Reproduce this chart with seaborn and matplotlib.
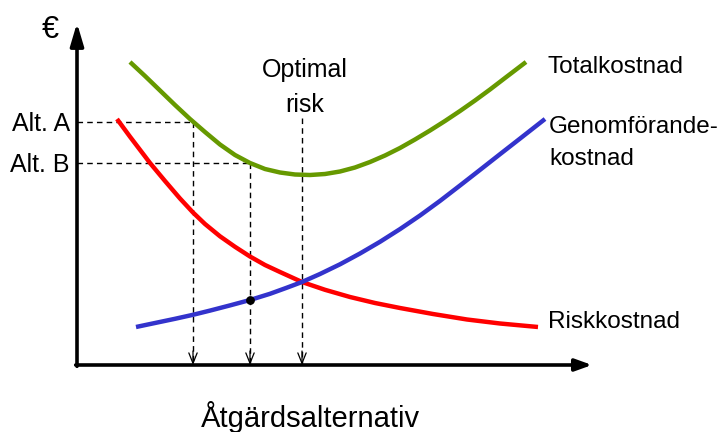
import matplotlib
matplotlib.use("Agg")
import matplotlib.pyplot as plt
import seaborn as sns
import pandas as pd

# --- data (arbitrary units: x = alternative, y = cost) ---
total_x = [53, 68, 83, 98, 113, 128, 143, 158, 173, 188, 203, 218, 233, 248,
           263, 278, 293, 308, 323, 338, 353, 368, 383, 398, 413, 428, 449]
total_y = [303, 289, 274.5, 260, 246, 233, 220.5, 210, 202, 196, 192.5, 190.5,
           190, 191, 193.5, 197.5, 203, 209.5, 217, 225.5, 234.5, 244, 254,
           264.5, 275.5, 287, 303]

risk_x = [40, 53, 68, 73, 88, 103, 116, 128, 143, 158, 173, 188, 203, 225,
          248, 273, 298, 323, 356, 390, 423, 461]
risk_y = [246, 228.3, 208.6, 202, 184, 166.5, 152.5, 141, 128.7, 118.2, 108.5,
          100, 93, 83, 75.2, 68, 62, 57, 51, 45.5, 41.5, 38]

impl_x = [59, 78, 98, 116, 133, 153, 173, 193, 209, 225, 243, 263, 283, 303,
          323, 343, 363, 383, 403, 423, 443, 468]
impl_y = [38, 42, 46.2, 50.2, 54.4, 59.6, 65, 71.2, 77, 83, 91, 100.7, 111.5,
          123.2, 135.9, 149.5, 164.1, 179.5, 195.1, 210.8, 226.4, 246]

alt_labels = ["Alt. A", "Alt. B"]
alt_x = [116, 173]
alt_y = [243, 202]
opt_x = 225
opt_top = 247
dot_x, dot_y = 173, 65

series_labels = ["Totalkostnad", "Genomförande-", "kostnad", "Riskkostnad"]
x_title = "Åtgärdsalternativ"
y_title = "€"
opt_label = ["Optimal", "risk"]

sns.set_theme(style="white")
plt.rcParams["font.family"] = ["Liberation Sans", "DejaVu Sans"]
plt.rcParams["text.color"] = "black"

fig = plt.figure(figsize=(7.2, 4.32), dpi=100)
ax = fig.add_axes([0, 0, 1, 1])
ax.set_xlim(-77, 643)
ax.set_ylim(-67, 365)
ax.axis("off")

GREEN, RED, BLUE = "#669900", "#ff0000", "#3333cc"

df_t = pd.DataFrame({"x": total_x, "y": total_y})
df_r = pd.DataFrame({"x": risk_x, "y": risk_y})
df_i = pd.DataFrame({"x": impl_x, "y": impl_y})

# dashed guide lines
dash = dict(color="black", lw=1.0, ls=(0, (4, 3)))
for xv, yv in zip(alt_x, alt_y):
    ax.plot([0, xv], [yv, yv], **dash, zorder=1)
    ax.plot([xv, xv], [yv, 0], **dash, zorder=1)
ax.plot([opt_x, opt_x], [opt_top, 0], **dash, zorder=1)

for xv in alt_x + [opt_x]:
    ax.annotate("", xy=(xv, 0), xytext=(xv, 14),
                arrowprops=dict(arrowstyle="->,head_length=0.75,head_width=0.3",
                                color="black", lw=0.9, shrinkA=0, shrinkB=0,
                                mutation_scale=10), zorder=2)

for df, col in ((df_t, GREEN), (df_r, RED), (df_i, BLUE)):
    sns.lineplot(data=df, x="x", y="y", sort=False, estimator=None, color=col,
                 lw=3.2, ax=ax, zorder=3)
    ax.lines[-1].set_solid_joinstyle("round")
    ax.lines[-1].set_solid_capstyle("butt")
ax.scatter([dot_x], [dot_y], s=28, color="black", zorder=4)

# axes with arrows
ax.annotate("", xy=(515, 0), xytext=(-1.3, 0),
            arrowprops=dict(arrowstyle="-|>,head_length=1.0,head_width=0.36",
                            color="black", lw=2.6, shrinkA=0, shrinkB=0,
                            mutation_scale=10), zorder=5)
ax.annotate("", xy=(0, 342), xytext=(0, -1.3),
            arrowprops=dict(arrowstyle="-|>,head_length=1.35,head_width=0.4",
                            color="black", lw=2.6, shrinkA=0, shrinkB=0,
                            mutation_scale=10), zorder=5)
ax.set_xlabel("")
ax.set_ylabel("")

fs = 17.5
ax.text(471, 292, series_labels[0], fontsize=fs, ha="left", va="baseline")
ax.text(472, 232, series_labels[1], fontsize=fs, ha="left", va="baseline")
ax.text(472, 200, series_labels[2], fontsize=fs, ha="left", va="baseline")
ax.text(471, 37, series_labels[3], fontsize=fs, ha="left", va="baseline")
ax.text(228, 288, opt_label[0], fontsize=18, ha="center", va="baseline")
ax.text(228, 253, opt_label[1], fontsize=18, ha="center", va="baseline")
for lab, yv in zip(alt_labels, alt_y):
    ax.text(-7, yv - 9, lab, fontsize=18, ha="right", va="baseline")
ax.text(-27, 327, y_title, fontsize=22, ha="center", va="baseline")
ax.text(233, -62, x_title, fontsize=21, ha="center", va="baseline")

fig.savefig("out.png", dpi=100, facecolor="white")
